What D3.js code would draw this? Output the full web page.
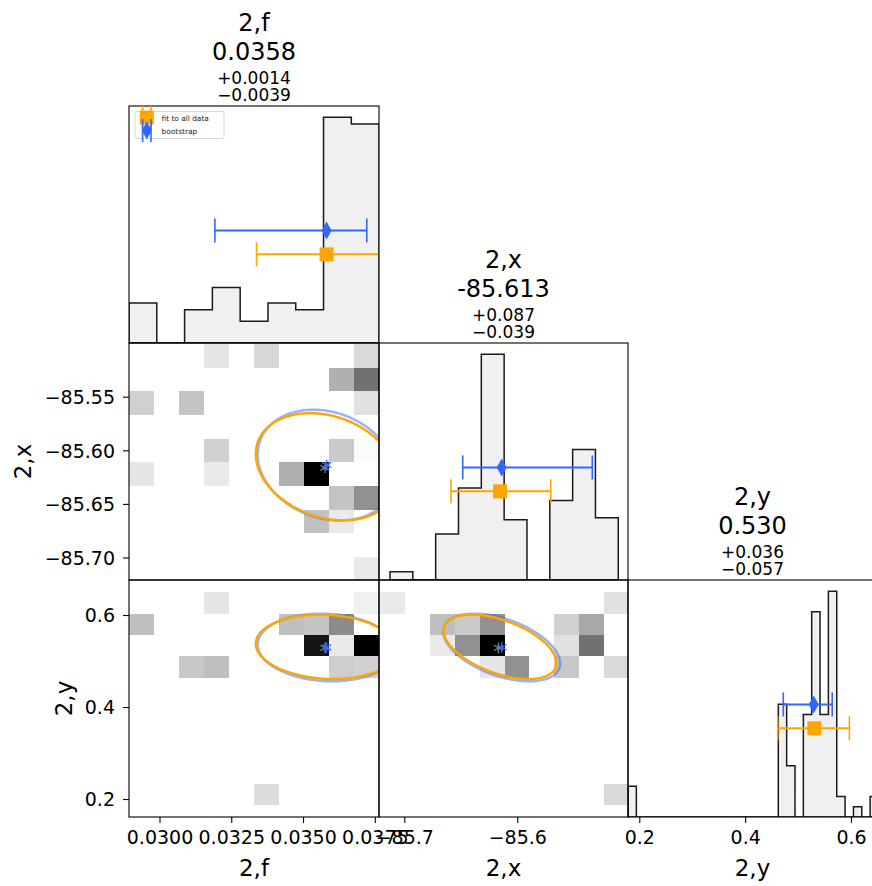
<!DOCTYPE html>
<html><head><meta charset="utf-8">
<script src="https://cdn.jsdelivr.net/npm/d3@7"></script>
<style>body{margin:0;background:#fff}svg{font-family:"DejaVu Sans",sans-serif}</style>
</head><body>
<svg id="chart" width="872" height="886"></svg>
<script>
// ---------------- data ----------------
const params = ["2,f", "2,x", "2,y"];
const titleValues = ["0.0358", "-85.613", "0.530"];
const titlePlus = ["+0.0014", "+0.087", "+0.036"];
const titleMinus = ["\u22120.0039", "\u22120.039", "\u22120.057"];

const fitValues = [0.03582, -85.6153, 0.5308];
const fitErrLow = [0.00244, 0.0434, 0.0693];
const fitErrHigh = [0.0024, 0.0449, 0.0662];
const bootValues = [0.03582, -85.6138, 0.5295];
const bootErrLow = [0.00389, 0.0345, 0.0574];
const bootErrHigh = [0.00140, 0.0802, 0.0350];

const fitSigma = [0.002463, 0.0500, 0.0700];
const fitCorr = [[1, -0.236, -0.095], [-0.236, 1, -0.499], [-0.095, -0.499, 1]];
const bootSigma = [0.00240, 0.0517, 0.0735];
const bootCorr = [[1, -0.19, -0.08], [-0.19, 1, -0.47], [-0.08, -0.47, 1]];

// axis limits: columns (x) and rows (y)
const colLims = [[0.028938, 0.037646], [-85.7224, -85.5020], [0.17865, 0.64913]];
const rowLims = [null, [-85.7210, -85.4999], [0.1609, 0.6761]];

// 1D histograms
const histStart = [0.028938, -85.71265, 0.17865];
const histBinWidth = [0.000968, 0.020204, 0.015777];
const histF = [7.2, 0, 6, 10, 3.9, 7.2, 6, 40.6, 39.4];
const histX = [2, 0, 11, 22, 54, 14.4, 0, 19, 31.2, 14.9];
const histY = [3, 0, 0, 0, 0, 0, 0, 0, 0, 0, 0, 0, 0, 0, 0, 0, 0, 0, 11, 5, 0, 10, 20, 10, 22, 2, 0, 1, 0, 2];
const hists = [histF, histX, histY];

// 2D histograms (10x10, rows listed from highest to lowest y-bin)
const hist2dRange = [[0.028938, 0.037646], [-85.7217, -85.5009], [0.1863, 0.6493]];
const hist2dMax = 12;
const hist2dFX = [
  [0, 0, 0, 1.2, 0, 1.9, 0, 0, 0, 1.8],
  [0, 0, 0, 0, 0, 0, 0, 0, 3.7, 6.7],
  [2.2, 0, 2.8, 0, 0, 0, 0, 0, 0, 1.4],
  [0, 0, 0, 0, 0, 0, 0, 0, 0, 0],
  [0, 0, 0, 2.2, 0, 0, 0, 0, 2.5, 0.2],
  [1.2, 0, 0, 1.0, 0, 0, 3.7, 12, 0, 0],
  [0, 0, 0, 0, 0, 0, 0, 0, 2.8, 5.2],
  [0, 0, 0, 0, 0, 0, 0, 2.9, 1.0, 0],
  [0, 0, 0, 0, 0, 0, 0, 0, 0, 0],
  [0, 0, 0, 0, 0, 0, 0, 0, 0, 1.0]
];
const hist2dFY = [
  [0, 0, 0, 1.2, 0, 0, 0, 0, 0, 0.7],
  [3.0, 0, 0, 0, 0, 0, 3.0, 2.8, 5.4, 0],
  [0, 0, 0, 0, 0, 0, 0, 11, 1.0, 12],
  [0, 0, 2.6, 3.0, 0, 0, 0, 0, 2.3, 2.2],
  [0, 0, 0, 0, 0, 0, 0, 0, 0, 0],
  [0, 0, 0, 0, 0, 0, 0, 0, 0, 0],
  [0, 0, 0, 0, 0, 0, 0, 0, 0, 0],
  [0, 0, 0, 0, 0, 0, 0, 0, 0, 0],
  [0, 0, 0, 0, 0, 0, 0, 0, 0, 0],
  [0, 0, 0, 0, 0, 1.6, 0, 0, 0, 0]
];
const hist2dXY = [
  [1.0, 0, 0, 0, 0, 0, 0, 0, 0, 1.4],
  [0, 0, 3.0, 2.5, 5.2, 0, 0, 2.2, 4.1, 0],
  [0, 0, 1.0, 5.2, 12, 0, 0, 1.4, 6.7, 0],
  [0, 0, 0, 0, 1.2, 5.2, 0, 2.6, 0, 1.8],
  [0, 0, 0, 0, 0, 0, 0, 0, 0, 0],
  [0, 0, 0, 0, 0, 0, 0, 0, 0, 0],
  [0, 0, 0, 0, 0, 0, 0, 0, 0, 0],
  [0, 0, 0, 0, 0, 0, 0, 0, 0, 0],
  [0, 0, 0, 0, 0, 0, 0, 0, 0, 0],
  [0, 0, 0, 0, 0, 0, 0, 0, 0, 1.8]
];

// ticks
const xTicks = [[0.03, 0.0325, 0.035, 0.0375], [-85.7, -85.6], [0.2, 0.4, 0.6]];
const xTickLabels = [["0.0300", "0.0325", "0.0350", "0.0375"], ["\u221285.7", "\u221285.6"], ["0.2", "0.4", "0.6"]];
const yTicks = [null, [-85.55, -85.60, -85.65, -85.70], [0.6, 0.4, 0.2]];
const yTickLabels = [null, ["\u221285.55", "\u221285.60", "\u221285.65", "\u221285.70"], ["0.6", "0.4", "0.2"]];

const legendLabels = ["fit to all data", "bootstrap"];

// ---------------- layout & style ----------------
const colX = [129, 379, 628], colW = [250, 249, 249];
const rowY = [106, 343, 580], rowH = [237, 237, 237];
const ORANGE = "#ffa500", BLUE = "#3366ff";
const errFrac = {fit: 0.374, boot: 0.475};
const FONT = '"DejaVu Sans", sans-serif';

const svg = d3.select("#chart");
const defs = svg.append("defs");

const xs = colLims.map((d, i) => d3.scaleLinear().domain(d).range([colX[i], colX[i] + colW[i]]));
const ys = rowLims.map((d, j) => d ? d3.scaleLinear().domain(d).range([rowY[j] + rowH[j], rowY[j]]) : null);

function clipFor(i, j) {
  const id = `clip${i}${j}`;
  defs.append("clipPath").attr("id", id).append("rect")
    .attr("x", colX[i]).attr("y", rowY[j]).attr("width", colW[i]).attr("height", rowH[j]);
  return `url(#${id})`;
}

function drawErrorbar(g, x, yPix, center, lo, hi, color, kind) {
  const x0 = x(center - lo), x1 = x(center + hi), xc = x(center);
  g.append("line").attr("x1", x0).attr("x2", x1).attr("y1", yPix).attr("y2", yPix)
    .attr("stroke", color).attr("stroke-width", 2);
  [x0, x1].forEach(xx => g.append("line").attr("x1", xx).attr("x2", xx)
    .attr("y1", yPix - 12).attr("y2", yPix + 12).attr("stroke", color).attr("stroke-width", 1.6));
  drawMarker(g, xc, yPix, color, kind);
}
function drawMarker(g, xc, yPix, color, kind) {
  if (kind === "square") {
    g.append("rect").attr("x", xc - 7).attr("y", yPix - 7).attr("width", 14).attr("height", 14).attr("fill", color);
  } else {
    g.append("path").attr("d", `M${xc},${yPix - 9}L${xc + 5},${yPix}L${xc},${yPix + 9}L${xc - 5},${yPix}Z`).attr("fill", color);
  }
}

// ---------- diagonal panels ----------
for (let i = 0; i < 3; i++) {
  const top = rowY[i], bottom = rowY[i] + rowH[i];
  const g = svg.append("g").attr("clip-path", clipFor(i, i));
  const counts = hists[i];
  const yh = d3.scaleLinear().domain([0, d3.max(counts) * 1.05]).range([bottom, top]);
  const x = xs[i];
  const edges = counts.map((c, k) => histStart[i] + k * histBinWidth[i]);
  const end = histStart[i] + counts.length * histBinWidth[i];
  let p = `M${x(histStart[i])},${yh(0)}`;
  counts.forEach((c, k) => {
    p += `L${x(edges[k])},${yh(c)}L${x(edges[k] + histBinWidth[i])},${yh(c)}`;
  });
  p += `L${x(end)},${yh(0)}Z`;
  g.append("path").attr("d", p).attr("fill", "#f0f0f0").attr("stroke", "#1a1a1a")
    .attr("stroke-width", 1.5).attr("stroke-linejoin", "miter");

  const yFit = top + (1 - errFrac.fit) * rowH[i];
  const yBoot = top + (1 - errFrac.boot) * rowH[i];
  drawErrorbar(g, x, yFit, fitValues[i], fitErrLow[i], fitErrHigh[i], ORANGE, "square");
  drawErrorbar(g, x, yBoot, bootValues[i], bootErrLow[i], bootErrHigh[i], BLUE, "diamond");

  // titles
  const cx = colX[i] + colW[i] / 2;
  const t = svg.append("g").attr("font-family", FONT).attr("text-anchor", "middle").attr("fill", "#000");
  t.append("text").attr("x", cx).attr("y", top - 75.3).attr("font-size", 24).text(params[i]);
  t.append("text").attr("x", cx).attr("y", top - 46.3).attr("font-size", 24).text(titleValues[i]);
  t.append("text").attr("x", cx).attr("y", top - 22).attr("font-size", 17).text(titlePlus[i]);
  t.append("text").attr("x", cx).attr("y", top - 4.7).attr("font-size", 17).text(titleMinus[i]);
}

// ---------- off-diagonal panels ----------
const pairs = [[0, 1, hist2dFX], [0, 2, hist2dFY], [1, 2, hist2dXY]];
const star = d3.symbol().type(d3.symbolAsterisk).size(80);
pairs.forEach(([i, j, mat]) => {
  const g = svg.append("g").attr("clip-path", clipFor(i, j));
  const x = xs[i], y = ys[j];
  const [xl, xh] = hist2dRange[i], [yl, yh2] = hist2dRange[j];
  const nb = mat.length;
  mat.forEach((row, r) => {
    const b = nb - 1 - r;
    row.forEach((c, k) => {
      if (c <= 0) return;
      const ex0 = xl + k * (xh - xl) / nb, ex1 = xl + (k + 1) * (xh - xl) / nb;
      const ey0 = yl + b * (yh2 - yl) / nb, ey1 = yl + (b + 1) * (yh2 - yl) / nb;
      const v = Math.round(255 * (1 - Math.min(c, hist2dMax) / hist2dMax));
      g.append("rect").attr("x", x(ex0)).attr("y", y(ey1))
        .attr("width", x(ex1) - x(ex0)).attr("height", y(ey0) - y(ey1))
        .attr("fill", `rgb(${v},${v},${v})`).attr("shape-rendering", "crispEdges");
    });
  });
  const ell = (mu, sig, corr, color, op) => {
    const rho = corr[i][j];
    const pts = d3.range(0, 201).map(s => {
      const tt = s / 200 * 2 * Math.PI;
      const dx = sig[i] * Math.cos(tt);
      const dy = sig[j] * (rho * Math.cos(tt) + Math.sqrt(1 - rho * rho) * Math.sin(tt));
      return [x(mu[i] + dx), y(mu[j] + dy)];
    });
    g.append("path").attr("d", d3.line()(pts) + "Z").attr("fill", "none")
      .attr("stroke", color).attr("stroke-opacity", op).attr("stroke-width", 2.5);
  };
  ell(bootValues, bootSigma, bootCorr, BLUE, 0.5);
  ell(fitValues, fitSigma, fitCorr, ORANGE, 1);
  g.append("path").attr("d", star).attr("transform", `translate(${x(fitValues[i]) - 1.5},${y(fitValues[j]) + 1})`)
    .attr("fill", "none").attr("stroke", "#888").attr("stroke-width", 1.2);
  g.append("path").attr("d", star).attr("transform", `translate(${x(bootValues[i])},${y(bootValues[j])})`)
    .attr("fill", "none").attr("stroke", BLUE).attr("stroke-width", 1.3);
});

// ---------- panel frames ----------
for (let j = 0; j < 3; j++) for (let i = 0; i <= j; i++) {
  svg.append("rect").attr("x", colX[i]).attr("y", rowY[j]).attr("width", colW[i]).attr("height", rowH[j])
    .attr("fill", "none").attr("stroke", "#000").attr("stroke-width", 1.1);
}

// ---------- axes ----------
const bottomY = rowY[2] + rowH[2];
for (let i = 0; i < 3; i++) {
  const ax = d3.axisBottom(xs[i]).tickValues(xTicks[i]).tickFormat((d, k) => xTickLabels[i][k])
    .tickSize(6).tickSizeOuter(0);
  const ga = svg.append("g").attr("transform", `translate(0,${bottomY})`).call(ax);
  ga.select(".domain").remove();
  ga.attr("font-family", FONT).attr("font-size", 19);
  ga.selectAll(".tick line").attr("stroke", "#000").attr("stroke-width", 1.1);
  ga.selectAll(".tick text").attr("y", 27).attr("dy", 0).attr("fill", "#000");
  svg.append("text").attr("x", colX[i] + colW[i] / 2).attr("y", 876).attr("text-anchor", "middle")
    .attr("font-family", FONT).attr("font-size", 23).text(params[i]);
}
const yLabelX = [null, 31, 72];
for (let j = 1; j < 3; j++) {
  const ax = d3.axisLeft(ys[j]).tickValues(yTicks[j]).tickFormat((d, k) => yTickLabels[j][k])
    .tickSize(6).tickSizeOuter(0);
  const ga = svg.append("g").attr("transform", `translate(${colX[0]},0)`).call(ax);
  ga.select(".domain").remove();
  ga.attr("font-family", FONT).attr("font-size", 19);
  ga.selectAll(".tick line").attr("stroke", "#000").attr("stroke-width", 1.1);
  ga.selectAll(".tick text").attr("x", -14).attr("dy", "0.36em").attr("fill", "#000");
  const cy = rowY[j] + rowH[j] / 2;
  svg.append("text").attr("transform", `translate(${yLabelX[j]},${cy}) rotate(-90)`)
    .attr("text-anchor", "middle").attr("font-family", FONT).attr("font-size", 23).text(params[j]);
}

// ---------- legend ----------
const lg = svg.append("g");
lg.append("rect").attr("x", 135).attr("y", 111.5).attr("width", 89).attr("height", 27).attr("rx", 2)
  .attr("fill", "#fff").attr("fill-opacity", 0.8).attr("stroke", "#ccc").attr("stroke-width", 0.8);
const legColors = [ORANGE, BLUE], legKinds = ["square", "diamond"], legY = [117.5, 130.5];
legendLabels.forEach((lab, k) => {
  const cx = 146.8, cy = legY[k];
  [cx - 4.2, cx + 4.2].forEach(xx => lg.append("line").attr("x1", xx).attr("x2", xx)
    .attr("y1", cy - 11.5).attr("y2", cy + 11.5).attr("stroke", legColors[k]).attr("stroke-width", 1.6));
  drawMarker(lg, cx, cy, legColors[k], legKinds[k]);
  lg.append("text").attr("x", 161.5).attr("y", cy + 3).attr("font-family", FONT).attr("font-size", 7.4)
    .attr("fill", "#222").text(lab);
});
</script>
</body></html>
